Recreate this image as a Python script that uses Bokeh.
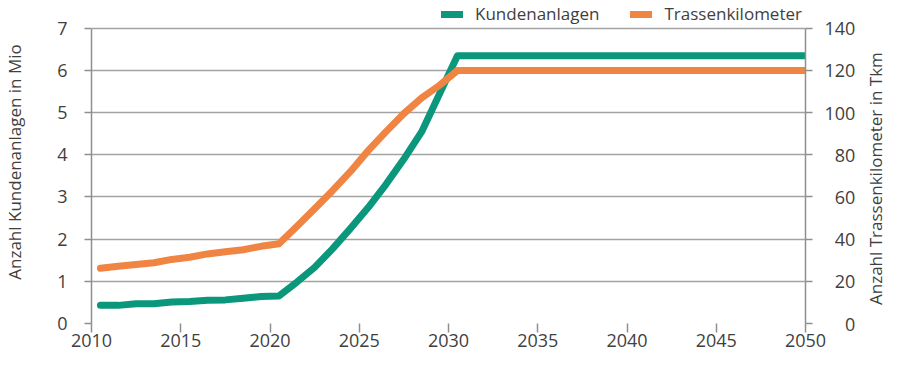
from bokeh.plotting import figure
from bokeh.models import Range1d, LinearAxis, FixedTicker, Legend, LegendItem, Div
from bokeh.layouts import row
from bokeh.embed import file_html
from bokeh.resources import INLINE

# Data
years = [2010.5, 2011.5, 2012.5, 2013.5, 2014.5, 2015.5, 2016.5, 2017.5, 2018.5, 2019.5,
         2020.5, 2021.5, 2022.5, 2023.5, 2024.5, 2025.5, 2026.5, 2027.5, 2028.5, 2029.5,
         2030.5, 2050]
kundenanlagen = [0.43, 0.43, 0.47, 0.47, 0.51, 0.52, 0.55, 0.56, 0.60, 0.64,
                 0.65, 0.98, 1.33, 1.77, 2.25, 2.75, 3.30, 3.90, 4.55, 5.45,
                 6.35, 6.35]
trassenkilometer = [26.2, 27.2, 28.0, 28.8, 30.4, 31.4, 33.0, 34.0, 35.0, 36.6,
                    37.8, 46.0, 54.4, 63.0, 72.0, 82.0, 91.0, 99.6, 107.0, 113.0,
                    120.0, 120.0]
x_ticks = [2010, 2015, 2020, 2025, 2030, 2035, 2040, 2045, 2050]
left_ticks = [0, 1, 2, 3, 4, 5, 6, 7]
right_ticks = [0, 20, 40, 60, 80, 100, 120, 140]
left_title = "Anzahl Kundenanlagen in Mio"
right_title = "Anzahl Trassenkilometer in Tkm"

GREEN = "#0b977b"
ORANGE = "#f08443"
GRID = "#a3a3a3"
AXIS = "#8f8f8f"
TEXT = "#3f3f3f"
FONT = "Open Sans"

# headroom above the top tick so the legend sits inside the frame
Y_TOP = 7.66
p = figure(width=858, height=355, x_range=Range1d(2010, 2050), y_range=Range1d(0, Y_TOP),
           output_backend="svg", toolbar_location=None,
           min_border_left=88, min_border_right=50, min_border_top=0, min_border_bottom=32)
p.extra_y_ranges = {"tkm": Range1d(0, Y_TOP * 20)}
p.outline_line_color = None
p.background_fill_color = "white"
p.border_fill_color = "white"

p.xgrid.visible = False
p.ygrid.ticker = FixedTicker(ticks=left_ticks)
p.ygrid.grid_line_color = GRID
p.ygrid.grid_line_width = 1.5

# x axis
xa = p.xaxis[0]
xa.ticker = FixedTicker(ticks=x_ticks)
xa.axis_line_color = None
xa.major_tick_line_color = AXIS
xa.major_tick_line_width = 1.5
xa.major_tick_out = 9
xa.major_tick_in = 0
xa.minor_tick_line_color = None
xa.major_label_standoff = 1
xa.major_label_text_font = FONT
xa.major_label_text_font_size = "18px"
xa.major_label_text_color = TEXT

# left axis
ya = p.yaxis[0]
ya.ticker = FixedTicker(ticks=left_ticks)
ya.bounds = (left_ticks[0], left_ticks[-1])
ya.axis_line_color = AXIS
ya.axis_line_width = 1.5
ya.major_tick_line_color = AXIS
ya.major_tick_line_width = 1.5
ya.major_tick_out = 7
ya.major_tick_in = 0
ya.minor_tick_line_color = None
ya.major_label_standoff = 17
ya.major_label_text_font = FONT
ya.major_label_text_font_size = "18px"
ya.major_label_text_color = TEXT
ya.axis_label = left_title
ya.axis_label_text_font = FONT
ya.axis_label_text_font_size = "17px"
ya.axis_label_text_font_style = "normal"
ya.axis_label_text_color = TEXT
ya.axis_label_standoff = 28

# right axis (its title is a rotated text block next to the figure)
ra = LinearAxis(y_range_name="tkm", ticker=FixedTicker(ticks=right_ticks),
                bounds=(right_ticks[0], right_ticks[-1]))
ra.axis_line_color = AXIS
ra.axis_line_width = 1.5
ra.major_tick_line_color = AXIS
ra.major_tick_line_width = 1.5
ra.major_tick_out = 7
ra.major_tick_in = 0
ra.minor_tick_line_color = None
ra.major_label_standoff = 12
ra.major_label_overrides = {t: ("\u2007" * (3 - len(str(t)))) + str(t) for t in right_ticks}
ra.major_label_text_font = FONT
ra.major_label_text_font_size = "18px"
ra.major_label_text_color = TEXT
p.add_layout(ra, "right")

g = p.line(years, kundenanlagen, line_color=GREEN, line_width=7, line_cap="round", line_join="round")
o = p.line(years, trassenkilometer, line_color=ORANGE, line_width=7, line_cap="round",
           line_join="round", y_range_name="tkm")

legend = Legend(items=[LegendItem(label="Kundenanlagen", renderers=[g]),
                       LegendItem(label="Trassenkilometer", renderers=[o])],
                orientation="horizontal", location=(350, 298), margin=0, padding=0,
                spacing=31, label_standoff=12, glyph_width=22, glyph_height=18,
                label_text_font=FONT, label_text_font_size="17px", label_text_color=TEXT,
                border_line_color=None, background_fill_alpha=0)
p.add_layout(legend, "center")

right_label = Div(text=right_title, width=26, height=355,
                  styles={"writing-mode": "vertical-rl", "transform": "rotate(180deg)",
                          "text-align": "center", "font-family": FONT, "font-size": "17px",
                          "color": TEXT, "line-height": "26px", "white-space": "nowrap",
                          "padding-top": "8px"})

layout = row(p, right_label, spacing=0)
open("out.html", "w").write(file_html(layout, INLINE))
